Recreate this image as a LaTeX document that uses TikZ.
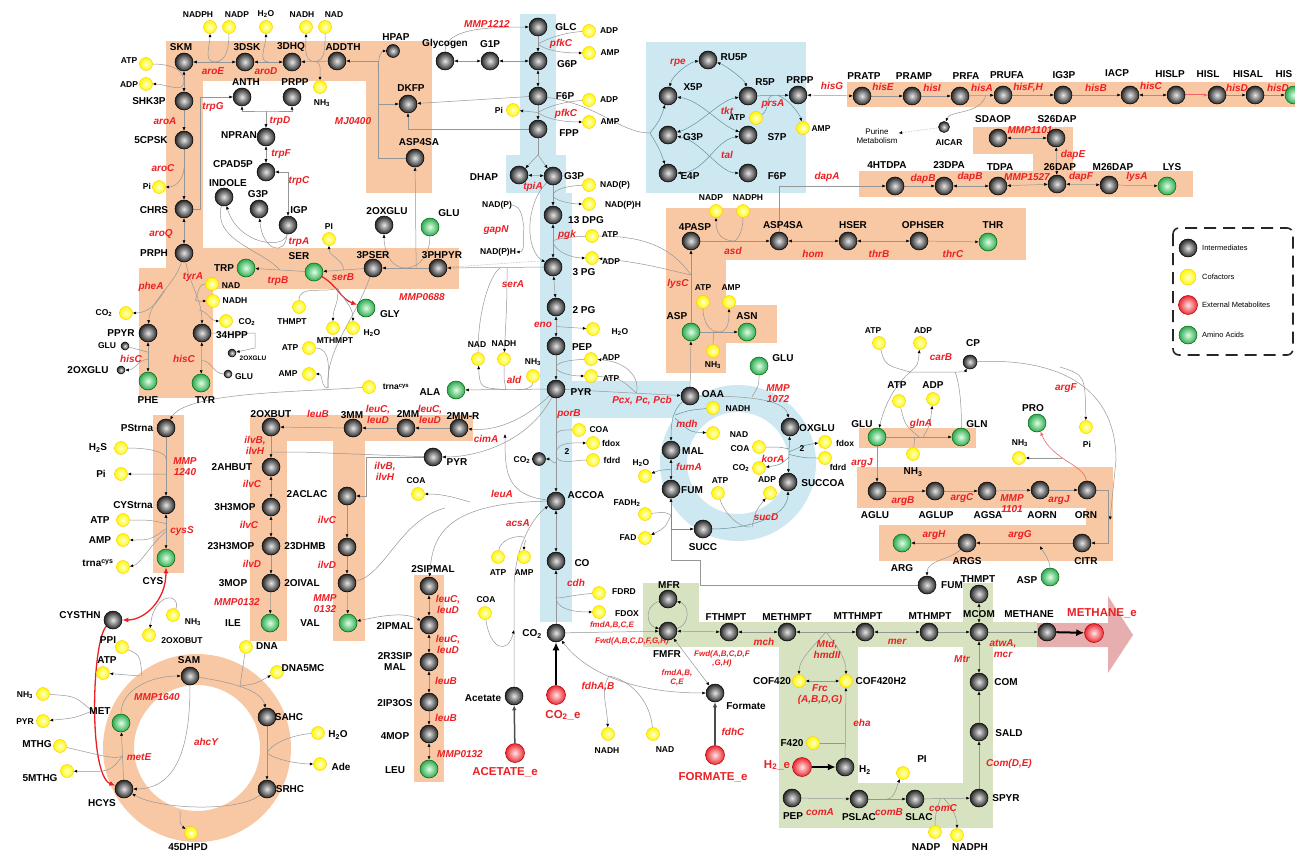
\documentclass[tikz,border=0pt]{standalone}
\usepackage{fontspec}
\setmainfont{Liberation Sans}
\usetikzlibrary{arrows.meta,calc}
\definecolor{orgbg}{RGB}{248,199,163}
\definecolor{bluebg}{RGB}{205,232,241}
\definecolor{grnbg}{RGB}{215,227,192}
\definecolor{enzred}{RGB}{236,32,36}
\definecolor{lgray}{RGB}{150,150,150}
\definecolor{tealc}{RGB}{100,145,155}
\definecolor{arrowbg}{RGB}{226,160,160}
\definecolor{aagreen}{RGB}{45,170,85}
\definecolor{exred}{RGB}{235,40,50}
\pgfdeclarelayer{bg}\pgfdeclarelayer{edges}
\pgfsetlayers{bg,edges,main}
\newcounter{tcnt}
\newcommand\mynode[4]{\node[#1] (#2) at (#3,-#4) {};}
\newcommand\mytext[4]{\stepcounter{tcnt}\node[#1] (t\arabic{tcnt}) at (#2,-#3) {#4};}
\tikzset{
 im/.style={circle,draw=black,line width=0.5pt,inner sep=0pt,minimum size=18pt,shading=radial,inner color=gray!20,outer color=black!85},
 ims/.style={im,minimum size=#1},
 cf/.style={circle,draw=yellow!60!orange,line width=0.4pt,inner sep=0pt,minimum size=13pt,shading=radial,inner color=yellow!15,outer color=yellow!95!orange},
 aa/.style={circle,draw=green!40!black,line width=0.5pt,inner sep=0pt,minimum size=18pt,shading=radial,inner color=green!12,outer color=aagreen},
 xm/.style={circle,draw=red!70!black,line width=0.5pt,inner sep=0pt,minimum size=19pt,shading=radial,inner color=red!10,outer color=exred},
 ml/.style={font=\bfseries\fontsize{10}{11}\selectfont,inner sep=0pt,align=center},
 cl/.style={font=\bfseries\fontsize{8.5}{9.5}\selectfont,inner sep=0pt,align=center},
 cls/.style={font=\bfseries\fontsize{6.5}{7}\selectfont,inner sep=0pt},
 en/.style={font=\bfseries\itshape\fontsize{10}{11}\selectfont,text=enzred,inner sep=0pt,align=center},
 ens/.style={font=\bfseries\itshape\fontsize{8}{9}\selectfont,text=enzred,inner sep=0pt,align=center},
 xl/.style={font=\bfseries\fontsize{11.5}{12}\selectfont,text=enzred,inner sep=0pt},
 lgt/.style={font=\fontsize{7.5}{9}\selectfont,anchor=west,inner sep=0pt},
 pur/.style={font=\fontsize{8}{9.5}\selectfont,inner sep=1pt,align=center},
 ar/.style={draw=lgray,line width=0.5pt,-{Latex[length=3.5pt,width=3pt,color=black]}},
 ar2/.style={draw=lgray,line width=0.5pt,{Latex[length=3.5pt,width=3pt,color=black]}-{Latex[length=3.5pt,width=3pt,color=black]}},
 ln/.style={draw=lgray,line width=0.5pt},
 ra/.style={draw=enzred,line width=1.3pt,-{Latex[length=6pt,width=5pt]}},
 ra2/.style={draw=enzred,line width=1.3pt,{Latex[length=6pt,width=5pt]}-{Latex[length=6pt,width=5pt]}},
 rt/.style={draw=enzred!70,line width=0.6pt,-{Latex[length=4pt,width=3.5pt]}},
 ba/.style={draw=black,line width=2pt,-{Latex[length=8pt,width=7pt]}},
 da/.style={draw=black!70,line width=1.5pt,-{Latex[length=5pt,width=4.5pt]}},
}
\begin{document}
\begin{tikzpicture}[x=1pt,y=1pt]
\useasboundingbox (0,0) rectangle (1295,-853);
\begin{pgfonlayer}{bg}
\fill[white] (0,0) rectangle (1295,-853);
\fill[orgbg] (166,-41) rectangle (432,-81);
\fill[orgbg] (166,-81) rectangle (203,-289);
\fill[orgbg] (366,-81) rectangle (432,-193);
\fill[orgbg] (203,-248) rectangle (459,-289);
\fill[orgbg] (139,-268) rectangle (213,-398);
\fill[orgbg] (847,-82) rectangle (1295,-107);
\fill[orgbg] (859,-171) rectangle (1193,-197);
\fill[orgbg] (973,-127) rectangle (1073,-154);
\fill[orgbg] (1033,-154) rectangle (1073,-171);
\fill[orgbg] (666,-208) rectangle (1026,-260);
\fill[orgbg] (666,-260) rectangle (726,-373);
\fill[orgbg] (666,-305) rectangle (777,-343);
\fill[orgbg] (859,-428) rectangle (976,-448);
\fill[orgbg] (857,-467) rectangle (1113,-508);
\fill[orgbg] (1086,-508) rectangle (1113,-525);
\fill[orgbg] (879,-525) rectangle (1113,-561);
\fill[orgbg] (153,-415) rectangle (184,-573);
\fill[orgbg] (250,-415) rectangle (287,-641);
\fill[orgbg] (250,-415) rectangle (473,-441);
\fill[orgbg] (333,-441) rectangle (365,-641);
\fill[orgbg] (414,-575) rectangle (444,-782);
\fill[orgbg,even odd rule] (197,-748) circle[radius=94] (197,-748) circle[radius=63];
\fill[bluebg] (520,-14) rectangle (556,-155);
\fill[bluebg] (506,-155) rectangle (566,-193);
\fill[bluebg] (540,-193) rectangle (572,-622);
\fill[bluebg] (646,-42) rectangle (806,-193);
\fill[bluebg] (572,-381) rectangle (690,-418);
\fill[bluebg,even odd rule] (738,-463) circle[radius=78] (738,-463) circle[radius=51];
\fill[grnbg] (643,-583) rectangle (699,-647);
\fill[grnbg] (643,-622) rectangle (1037,-647);
\fill[grnbg] (779,-647) rectangle (858,-828);
\fill[grnbg] (779,-783) rectangle (993,-828);
\fill[grnbg] (963,-583) rectangle (993,-828);
\fill[arrowbg,opacity=0.85] (1037,-623) -- (1108,-623) -- (1108,-596) -- (1133,-635) -- (1108,-673) -- (1108,-647) -- (1037,-647) -- cycle;
\end{pgfonlayer}
% ===== shikimate =====
\mynode{cf}{nadph1}{210}{27}\mytext{cl}{198}{15}{NADPH}
\mynode{cf}{nadp1}{229}{27}\mytext{cl}{237}{15}{NADP}
\mynode{cf}{h2o1}{266}{27}\mytext{cl}{266}{14}{H\textsubscript{2}O}
\mynode{cf}{nadh1}{306}{27}\mytext{cl}{302}{15}{NADH}
\mynode{cf}{nad1}{325}{27}\mytext{cl}{334}{15}{NAD}
\mynode{im}{skm}{184}{62}\mytext{ml}{181}{47}{SKM}
\mynode{im}{dsk}{245}{62}\mytext{ml}{247}{47}{3DSK}
\mynode{im}{dhq}{292}{62}\mytext{ml}{291}{47}{3DHQ}
\mynode{im}{addth}{337}{61}\mytext{ml}{343}{47}{ADDTH}
\mytext{en}{213}{71}{aroE}\mytext{en}{266}{71}{aroD}
\mynode{cf}{atp1}{146}{64}\mytext{cl}{129}{61}{ATP}
\mynode{cf}{adp1}{146}{84}\mytext{cl}{129}{85}{ADP}
\mynode{im}{shk3p}{184}{101}\mytext{ml}{149}{101}{SHK3P}
\mytext{en}{165}{121}{aroA}
\mynode{im}{cpsk}{184}{140}\mytext{ml}{151}{140}{5CPSK}
\mytext{en}{163}{168}{aroC}
\mynode{cf}{pi1}{159}{187}\mytext{cl}{147}{186}{Pi}
\mynode{im}{chrs}{184}{209}\mytext{ml}{154}{210}{CHRS}
\mytext{en}{161}{234}{aroQ}
\mynode{im}{prph}{184}{253}\mytext{ml}{154}{253}{PRPH}
\mytext{en}{193}{277}{tyrA}
\mynode{im}{anth}{242}{97}\mytext{ml}{246}{82}{ANTH}
\mynode{im}{prpp1}{292}{97}\mytext{ml}{295}{82}{PRPP}
\mynode{cf}{nh31}{320}{87}\mytext{cl}{322}{103}{NH\textsubscript{3}}
\mytext{en}{213}{107}{trpG}\mytext{en}{280}{121}{trpD}
\mynode{im}{npran}{266}{137}\mytext{ml}{239}{135}{NPRAN}
\mytext{en}{281}{154}{trpF}
\mynode{im}{cpad}{266}{172}\mytext{ml}{233}{164}{CPAD5P}
\mytext{en}{299}{181}{trpC}
\mynode{im}{indole}{224}{197}\mytext{ml}{228}{183}{INDOLE}
\mynode{im}{g3pa}{259}{209}\mytext{ml}{258}{194}{G3P}
\mynode{im}{igp}{288}{225}\mytext{ml}{299}{210}{IGP}
\mytext{en}{299}{242}{trpA}
\mynode{aa}{trp}{246}{268}\mytext{ml}{224}{268}{TRP}
\mytext{en}{278}{281}{trpB}
\mynode{aa}{ser}{314}{272}\mytext{ml}{299}{256}{SER}
\mynode{cf}{nad2}{212}{284}\mytext{cl}{231}{286}{NAD}
\mynode{cf}{nadh2}{213}{301}\mytext{cl}{235}{301}{NADH}
\mynode{cf}{pi2}{329}{239}\mytext{cl}{329}{227}{PI}
\mytext{en}{151}{287}{pheA}
\mynode{cf}{co2a}{126}{313}\mytext{cl}{104}{313}{CO\textsubscript{2}}
\mynode{cf}{co2b}{226}{321}\mytext{cl}{247}{322}{CO\textsubscript{2}}
\mynode{im}{ppyr}{148}{333}\mytext{ml}{121}{333}{PPYR}
\mynode{im}{hpp}{202}{333}\mytext{ml}{232}{335}{34HPP}
\mynode{ims=8pt}{glu1}{125}{346}\mytext{cl}{107}{346}{GLU}
\mytext{en}{131}{359}{hisC}\mytext{en}{184}{359}{hisC}
\mynode{ims=8pt}{oxglu1}{121}{370}\mytext{ml}{88}{370}{2OXGLU}
\mynode{ims=8pt}{oxglu2}{232}{353}\mytext{cls}{253}{358}{2OXGLU}
\mynode{ims=8pt}{glu2}{228}{374}\mytext{cl}{244}{377}{GLU}
\mynode{aa}{phe}{148}{381}\mytext{ml}{148}{400}{PHE}
\mynode{aa}{tyr}{201}{383}\mytext{ml}{205}{400}{TYR}
% ===== DKFP / glycolysis =====
\mynode{ims=13pt}{hpap}{393}{51}\mytext{ml}{396}{37}{HPAP}
\mynode{im}{glycogen}{445}{61}\mytext{ml}{445}{44}{Glycogen}
\mynode{im}{g1p}{490}{61}\mytext{ml}{490}{44}{G1P}
\mynode{im}{glc}{538}{27}\mytext{ml}{566}{27}{GLC}
\mytext{en}{487}{24}{MMP1212}
\mynode{cf}{adp2}{589}{31}\mytext{cl}{609}{31}{ADP}
\mytext{en}{561}{44}{pfkC}
\mynode{cf}{amp2}{589}{53}\mytext{cl}{610}{53}{AMP}
\mynode{im}{g6p}{538}{61}\mytext{ml}{567}{64}{G6P}
\mynode{im}{dkfp}{408}{104}\mytext{ml}{411}{88}{DKFP}
\mytext{en}{353}{121}{MJ0400}
\mynode{im}{asp4sa1}{415}{158}\mytext{ml}{419}{142}{ASP4SA}
\mynode{im}{f6p}{538}{96}\mytext{ml}{565}{96}{F6P}
\mynode{cf}{adp3}{589}{100}\mytext{cl}{609}{100}{ADP}
\mynode{cf}{pi3}{513}{110}\mytext{cl}{499}{110}{Pi}
\mytext{en}{566}{114}{pfkC}
\mynode{cf}{amp3}{589}{122}\mytext{cl}{610}{122}{AMP}
\mynode{im}{fpp}{538}{129}\mytext{ml}{569}{133}{FPP}
\mynode{im}{dhap}{519}{175}\mytext{ml}{484}{177}{DHAP}
\mynode{im}{g3p}{553}{176}\mytext{ml}{574}{176}{G3P}
\mytext{en}{533}{187}{tpiA}
\mynode{cf}{nadp2}{589}{185}\mytext{cl}{615}{185}{NAD(P)}
\mynode{cf}{nadph2}{589}{204}\mytext{cl}{623}{205}{NAD(P)H}
\mynode{im}{dpg}{553}{215}\mytext{ml}{586}{220}{13 DPG}
\mytext{en}{567}{235}{pgk}
\mynode{cf}{atp2}{592}{236}\mytext{cl}{610}{235}{ATP}
\mynode{cf}{adp4}{592}{258}\mytext{cl}{611}{262}{ADP}
\mynode{im}{pg3}{553}{267}\mytext{ml}{584}{272}{3 PG}
\node[cl] (tnadpa) at (497,-205) {NAD(P)};
\mytext{en}{496}{230}{gapN}
\node[cl] (tnadph) at (498,-252) {NAD(P)H};
\mynode{im}{oxglu3}{384}{225}\mytext{ml}{387}{211}{2OXGLU}
\mynode{aa}{glu3}{430}{227}\mytext{ml}{449}{213}{GLU}
\mynode{im}{pser}{373}{268}\mytext{ml}{373}{255}{3PSER}
\mynode{im}{phpyr}{438}{268}\mytext{ml}{442}{255}{3PHPYR}
\mytext{en}{343}{277}{serB}\mytext{en}{513}{284}{serA}
\mynode{cf}{thmpt1}{299}{307}\mytext{cl}{292}{322}{THMPT}
\mynode{cf}{mthmpt1}{333}{328}\mytext{cl}{335}{341}{MTHMPT}
\mynode{cf}{h2o2}{353}{328}\mytext{cl}{372}{333}{H\textsubscript{2}O}
\mynode{aa}{gly}{366}{308}\mytext{ml}{390}{314}{GLY}
\mytext{en}{422}{297}{MMP0688}
\mynode{cf}{atp3}{309}{348}\mytext{cl}{290}{348}{ATP}
\mynode{cf}{amp4}{309}{374}\mytext{cl}{288}{374}{AMP}
\mynode{cf}{trna1}{369}{387}\mytext{cl}{396}{387}{trna\textsuperscript{cys}}
\mynode{im}{pg2}{556}{307}\mytext{ml}{584}{310}{2 PG}
\mytext{en}{543}{325}{eno}
\mynode{cf}{h2o3}{593}{329}\mytext{cl}{620}{332}{H\textsubscript{2}O}
\mynode{im}{pep}{556}{346}\mytext{ml}{582}{347}{PEP}
\mynode{cf}{adp5}{591}{359}\mytext{cl}{611}{358}{ADP}
\mynode{cf}{atp4}{591}{376}\mytext{cl}{611}{379}{ATP}
\mynode{im}{pyr}{556}{389}\mytext{ml}{581}{392}{PYR}
\mytext{en}{642}{401}{Pcx, Pc, Pcb}
\mytext{en}{569}{414}{porB}
\mynode{cf}{coa1}{579}{430}\mytext{cl}{599}{430}{COA}
\mynode{cf}{fdox1}{593}{443}\mytext{cl}{611}{443}{fdox}
\mytext{cl}{567}{452}{2}
\mynode{cf}{fdrd1}{593}{460}\mytext{cl}{612}{460}{fdrd}
\mynode{ims=13pt}{co2s}{539}{459}\mytext{cl}{522}{460}{CO\textsubscript{2}}
\mynode{im}{accoa}{556}{501}\mytext{ml}{586}{495}{ACCOA}
\mynode{im}{co}{556}{561}\mytext{ml}{582}{563}{CO}
\mynode{cf}{nad3}{478}{359}\mytext{cl}{477}{345}{NAD}
\mynode{cf}{nadh3}{504}{359}\mytext{cl}{504}{344}{NADH}
\mynode{cf}{nh32}{533}{376}\mytext{cl}{533}{362}{NH\textsubscript{3}}
\mytext{en}{514}{380}{ald}
\mynode{aa}{ala}{456}{390}\mytext{ml}{430}{392}{ALA}
% ===== branched chain =====
\mynode{im}{oxbut}{271}{427}\mytext{ml}{271}{414}{2OXBUT}
\mytext{en}{318}{414}{leuB}
\mytext{en}{255}{445}{ilvB,\\ilvH}
\mynode{im}{ahbut}{271}{467}\mytext{ml}{232}{467}{2AHBUT}
\mytext{en}{252}{484}{ilvC}
\mynode{im}{h3mop}{271}{507}\mytext{ml}{235}{507}{3H3MOP}
\mytext{en}{249}{525}{ilvC}
\mynode{im}{h23mop}{271}{546}\mytext{ml}{231}{546}{23H3MOP}
\mytext{en}{252}{564}{ilvD}
\mynode{im}{mop3}{271}{583}\mytext{ml}{233}{583}{3MOP}
\mytext{en}{237}{602}{MMP0132}
\mynode{aa}{ile}{270}{623}\mytext{ml}{233}{623}{ILE}
\mynode{im}{mm3}{353}{428}\mytext{ml}{352}{415}{3MM}
\mytext{en}{378}{414}{leuC,\\leuD}
\mynode{im}{mm2}{406}{428}\mytext{ml}{408}{414}{2MM}
\mytext{en}{430}{414}{leuC,\\leuD}
\mynode{im}{mmr}{459}{428}\mytext{ml}{463}{416}{2MM-R}
\mytext{en}{486}{439}{cimA}
\mynode{im}{pyr2}{433}{457}\mytext{ml}{457}{462}{PYR}
\mytext{en}{385}{471}{ilvB,\\ilvH}
\mynode{im}{aclac}{347}{496}\mytext{ml}{307}{494}{2ACLAC}
\mytext{en}{327}{520}{ilvC}
\mynode{im}{dhmb}{347}{547}\mytext{ml}{305}{546}{23DHMB}
\mytext{en}{327}{565}{ilvD}
\mynode{im}{oival}{347}{583}\mytext{ml}{302}{583}{2OIVAL}
\mytext{en}{325}{604}{MMP\\0132}
\mynode{aa}{val}{348}{623}\mytext{ml}{310}{623}{VAL}
\mynode{cf}{coa2}{418}{494}\mytext{cl}{416}{481}{COA}
\mytext{en}{502}{494}{leuA}\mytext{en}{518}{523}{acsA}
\mynode{cf}{atp5}{498}{557}\mytext{cl}{498}{573}{ATP}
\mynode{cf}{amp5}{524}{557}\mytext{cl}{524}{573}{AMP}
\mytext{ml}{433}{569}{2SIPMAL}
\mynode{im}{sipmal}{429}{586}
\mytext{en}{448}{604}{leuC,\\leuD}
\mynode{im}{ipmal}{429}{625}\mytext{ml}{395}{626}{2IPMAL}
\mytext{en}{448}{644}{leuC,\\leuD}
\mynode{im}{r3sip}{429}{662}\mytext{ml}{395}{662}{2R3SIP\\MAL}
\mytext{en}{446}{681}{leuB}
\mynode{im}{ip3os}{429}{702}\mytext{ml}{395}{703}{2IP3OS}
\mytext{en}{446}{718}{leuB}
\mynode{im}{mop4}{429}{734}\mytext{ml}{395}{736}{4MOP}
\mytext{en}{460}{754}{MMP0132}
\mynode{aa}{leu}{429}{769}\mytext{ml}{395}{770}{LEU}
% ===== acetate / CO2 =====
\mynode{cf}{coa3}{485}{613}\mytext{cl}{486}{600}{COA}
\mynode{im}{acetate}{514}{696}\mytext{ml}{483}{698}{Acetate}
\mynode{xm}{acetatee}{515}{753}\mytext{xl}{505}{772}{ACETATE\_e}
\mynode{im}{co2}{556}{633}\mytext{ml}{532}{634}{CO\textsubscript{2}}
\mynode{xm}{co2e}{556}{695}\mytext{xl}{563}{715}{CO\textsubscript{2}\_e}
\mytext{en}{576}{583}{cdh}
\mynode{cf}{fdrd2}{599}{593}\mytext{cl}{624}{592}{FDRD}
\mynode{cf}{fdox2}{599}{612}\mytext{cl}{627}{614}{FDOX}
\mytext{ens}{612}{625}{fmdA,B,C,E}
\mytext{ens}{632}{641}{Fwd(A,B,C,D,F,G,H)}
\mytext{en}{598}{687}{fdhA,B}
\mynode{cf}{nadh4}{608}{734}\mytext{cl}{607}{751}{NADH}
\mynode{cf}{nad4}{653}{734}\mytext{cl}{665}{750}{NAD}
% ===== aspartate =====
\mynode{im}{pasp}{691}{241}\mytext{ml}{695}{227}{4PASP}
\mynode{cf}{nadp3}{716}{211}\mytext{cl}{711}{198}{NADP}
\mynode{cf}{nadph3}{743}{211}\mytext{cl}{748}{198}{NADPH}
\mytext{en}{733}{251}{asd}
\mynode{im}{asp4sa2}{779}{241}\mytext{ml}{783}{225}{ASP4SA}
\mytext{en}{813}{254}{hom}
\mynode{im}{hser}{848}{241}\mytext{ml}{853}{225}{HSER}
\mytext{en}{879}{254}{thrB}
\mynode{im}{ophser}{919}{241}\mytext{ml}{923}{225}{OPHSER}
\mytext{en}{953}{254}{thrC}
\mynode{aa}{thr}{988}{242}\mytext{ml}{993}{225}{THR}
\mytext{en}{678}{284}{lysC}
\mynode{aa}{asp1}{691}{332}\mytext{ml}{677}{316}{ASP}
\mynode{cf}{atp6}{703}{302}\mytext{cl}{703}{288}{ATP}
\mynode{cf}{amp6}{729}{302}\mytext{cl}{731}{288}{AMP}
\mynode{aa}{asn}{747}{332}\mytext{ml}{747}{316}{ASN}
\mynode{cf}{nh33}{713}{351}\mytext{cl}{713}{365}{NH\textsubscript{3}}
\mynode{aa}{glu4}{759}{366}\mytext{ml}{783}{358}{GLU}
\mytext{en}{778}{394}{MMP\\1072}
% ===== lysine =====
\mytext{en}{827}{177}{dapA}
\mynode{im}{htdpa}{895}{186}\mytext{ml}{887}{165}{4HTDPA}
\mytext{en}{923}{179}{dapB}
\mynode{im}{dpa23}{944}{186}\mytext{ml}{949}{165}{23DPA}
\mytext{en}{970}{177}{dapB}
\mynode{im}{tdpa}{998}{186}\mytext{ml}{1000}{167}{TDPA}
\mytext{en}{1027}{177}{MMP1527}
\mynode{im}{dap26}{1057}{184}\mytext{ml}{1060}{167}{26DAP}
\mytext{en}{1081}{177}{dapF}
\mynode{im}{m26dap}{1109}{185}\mytext{ml}{1113}{167}{M26DAP}
\mytext{en}{1137}{177}{lysA}
\mynode{aa}{lys}{1167}{186}\mytext{ml}{1172}{167}{LYS}
\mynode{im}{sdaop}{998}{138}\mytext{ml}{993}{119}{SDAOP}
\mytext{en}{1030}{130}{MMP1101}
\mynode{im}{s26dap}{1056}{138}\mytext{ml}{1057}{119}{S26DAP}
\mytext{en}{1073}{155}{dapE}
% ===== PPP =====
\mynode{im}{ru5p}{708}{60}\mytext{ml}{734}{57}{RU5P}
\mytext{en}{678}{63}{rpe}
\mynode{im}{x5p}{668}{96}\mytext{ml}{693}{87}{X5P}
\mynode{im}{r5p}{748}{96}\mytext{ml}{765}{82}{R5P}
\mynode{im}{prpp2}{798}{95}\mytext{ml}{800}{80}{PRPP}
\mytext{en}{832}{86}{hisG}
\mytext{en}{727}{111}{tkt}\mytext{en}{773}{104}{prsA}
\mynode{cf}{atp7}{756}{118}\mytext{cl}{737}{118}{ATP}
\mynode{cf}{amp7}{803}{128}\mytext{cl}{821}{129}{AMP}
\mynode{im}{g3p2}{668}{135}\mytext{ml}{693}{137}{G3P}
\mynode{im}{s7p}{748}{135}\mytext{ml}{777}{137}{S7P}
\mytext{en}{727}{155}{tal}
\mynode{im}{e4p}{668}{173}\mytext{ml}{690}{176}{E4P}
\mynode{im}{f6p2}{748}{173}\mytext{ml}{777}{176}{F6P}
% ===== histidine =====
\mynode{im}{pratp}{862}{96}\mytext{ml}{864}{76}{PRATP}
\mytext{en}{883}{87}{hisE}
\mynode{im}{pramp}{912}{96}\mytext{ml}{914}{76}{PRAMP}
\mytext{en}{932}{88}{hisI}
\mynode{im}{prfa}{960}{96}\mytext{ml}{966}{76}{PRFA}
\mytext{en}{982}{88}{hisA}
\mynode{im}{prufa}{1003}{95}\mytext{ml}{1007}{75}{PRUFA}
\mytext{en}{1028}{88}{hisF,H}
\mynode{im}{ig3p}{1063}{95}\mytext{ml}{1064}{75}{IG3P}
\mytext{en}{1096}{88}{hisB}
\mynode{im}{iacp}{1130}{95}\mytext{ml}{1117}{73}{IACP}
\mytext{en}{1151}{86}{hisC}
\mynode{im}{hislp}{1176}{95}\mytext{ml}{1170}{74}{HISLP}
\mynode{im}{hisl}{1217}{95}\mytext{ml}{1208}{74}{HISL}
\mytext{en}{1237}{88}{hisD}
\mynode{im}{hisal}{1255}{95}\mytext{ml}{1248}{74}{HISAL}
\mytext{en}{1278}{88}{hisD}
\mynode{aa}{his}{1294}{95}\mytext{ml}{1284}{74}{HIS}
\node[pur] (purine) at (877,-136) {Purine\\Metabolism};
\mynode{ims=11pt}{aicar}{944}{127}\mytext{cl}{949}{143}{AICAR}
% ===== TCA =====
\mynode{im}{oaa}{690}{396}\mytext{ml}{713}{394}{OAA}
\mynode{cf}{nadh5}{713}{408}\mytext{cl}{738}{409}{NADH}
\mytext{en}{687}{424}{mdh}
\mynode{cf}{nad5}{713}{433}\mytext{cl}{739}{435}{NAD}
\mynode{im}{mal}{671}{450}\mytext{ml}{693}{451}{MAL}
\mytext{en}{689}{467}{fumA}
\mynode{cf}{h2o4}{645}{476}\mytext{cl}{641}{463}{H\textsubscript{2}O}
\mynode{im}{fum}{671}{489}\mytext{ml}{692}{490}{FUM}
\mynode{cf}{fadh2}{645}{514}\mytext{cl}{627}{503}{FADH\textsubscript{2}}
\mynode{cf}{fad}{645}{538}\mytext{cl}{628}{538}{FAD}
\mynode{im}{succ}{703}{529}\mytext{ml}{703}{547}{SUCC}
\mynode{cf}{atp8}{718}{493}\mytext{cl}{720}{481}{ATP}
\mynode{cf}{adp6}{770}{493}\mytext{cl}{767}{480}{ADP}
\mytext{en}{766}{517}{sucD}
\mynode{cf}{coa4}{759}{447}\mytext{cl}{740}{449}{COA}
\mytext{en}{773}{459}{korA}
\mynode{cf}{co2c}{759}{468}\mytext{cl}{741}{468}{CO\textsubscript{2}}
\mynode{im}{oxglu4}{790}{427}\mytext{ml}{817}{428}{OXGLU}
\mynode{im}{succoa}{788}{482}\mytext{ml}{823}{483}{SUCCOA}
\mynode{cf}{fdox3}{825}{442}\mytext{cl}{845}{443}{fdox}
\mytext{cl}{802}{449}{2}
\mynode{cf}{fdrd3}{825}{458}\mytext{cl}{838}{467}{fdrd}
\mytext{en}{862}{463}{argJ}
% ===== glutamate / arginine =====
\mynode{aa}{glu5}{877}{437}\mytext{ml}{862}{424}{GLU}
\mytext{en}{921}{424}{glnA}
\mynode{aa}{gln}{961}{437}\mytext{ml}{977}{424}{GLN}
\mynode{cf}{atp9}{899}{401}\mytext{ml}{897}{385}{ATP}
\mynode{cf}{adp7}{933}{399}\mytext{ml}{933}{385}{ADP}
\mynode{cf}{nh34}{913}{454}\mytext{ml}{913}{472}{NH\textsubscript{3}}
\mynode{cf}{atp10}{879}{343}\mytext{cl}{873}{331}{ATP}
\mynode{cf}{adp8}{920}{343}\mytext{cl}{923}{331}{ADP}
\mytext{en}{941}{357}{carB}
\mynode{ims=14pt}{cp}{970}{362}\mytext{ml}{973}{343}{CP}
\mytext{en}{1066}{388}{argF}
\mynode{aa}{pro}{1037}{423}\mytext{ml}{1033}{408}{PRO}
\mynode{cf}{pi4}{1086}{427}\mytext{cl}{1087}{444}{Pi}
\mynode{cf}{nh35}{1019}{458}\mytext{cl}{1020}{443}{NH\textsubscript{3}}
\mynode{im}{aglu}{877}{491}\mytext{ml}{875}{515}{AGLU}
\mytext{en}{903}{501}{argB}
\mynode{im}{aglup}{935}{491}\mytext{ml}{936}{515}{AGLUP}
\mytext{en}{962}{498}{argC}
\mynode{im}{agsa}{987}{491}\mytext{ml}{988}{515}{AGSA}
\mytext{en}{1012}{504}{MMP\\1101}
\mynode{im}{aorn}{1040}{490}\mytext{ml}{1042}{515}{AORN}
\mytext{en}{1059}{500}{argJ}
\mynode{im}{orn}{1087}{490}\mytext{ml}{1086}{515}{ORN}
\mynode{im}{citr}{1082}{543}\mytext{ml}{1086}{561}{CITR}
\mytext{en}{1020}{535}{argG}
\mynode{im}{args}{967}{543}\mytext{ml}{967}{561}{ARGS}
\mytext{en}{934}{535}{argH}
\mynode{aa}{arg}{902}{543}\mytext{ml}{902}{568}{ARG}
\mynode{aa}{asp2}{1050}{577}\mytext{ml}{1027}{580}{ASP}
\mynode{im}{fum2}{927}{585}\mytext{ml}{952}{585}{FUM}
% ===== legend =====
\draw[black!85,line width=1.6pt,dash pattern=on 12pt off 7pt,rounded corners=6pt] (1173,-228) rectangle (1293,-355);
\mynode{im}{lg1}{1188}{248}\mytext{lgt}{1202}{248}{Intermediates}
\mynode{cf,minimum size=16pt}{lg2}{1188}{277}\mytext{lgt}{1202}{277}{Cofactors}
\mynode{xm}{lg3}{1188}{305}\mytext{lgt}{1202}{305}{External Metabolites}
\mynode{aa}{lg4}{1188}{335}\mytext{lgt}{1202}{335}{Amino Acids}
% ===== methanogenesis =====
\mynode{im}{mfr}{668}{599}\mytext{ml}{669}{585}{MFR}
\mynode{im}{fmfr}{668}{631}\mytext{ml}{667}{654}{FMFR}
\mytext{ens}{677}{678}{fmdA,B,\\C,E}
\mynode{im}{fthmpt}{729}{632}\mytext{ml}{726}{617}{FTHMPT}
\mytext{ens}{722}{659}{Fwd(A,B,C,D,F\\,G,H)}
\mytext{en}{764}{642}{mch}
\mynode{im}{methmpt}{787}{632}\mytext{ml}{787}{617}{METHMPT}
\mytext{en}{827}{649}{Mtd,\\hmdII}
\mynode{im}{mtthmpt}{865}{632}\mytext{ml}{858}{616}{MTTHMPT}
\mytext{en}{897}{642}{mer}
\mynode{im}{mthmpt}{929}{632}\mytext{ml}{930}{616}{MTHMPT}
\mynode{im}{formate}{715}{693}\mytext{ml}{746}{706}{Formate}
\mytext{en}{733}{732}{fdhC}
\mynode{xm}{formatee}{715}{755}\mytext{xl}{713}{777}{FORMATE\_e}
\mynode{cf}{cof420}{799}{681}\mytext{ml}{772}{681}{COF420}
\mynode{cf}{cof420h2}{846}{681}\mytext{ml}{881}{681}{COF420H2}
\mytext{en}{820}{695}{Frc\\(A,B,D,G)}
\mytext{en}{862}{723}{eha}
\mynode{cf}{f420}{813}{743}\mytext{ml}{792}{743}{F420}
\mynode{xm}{h2e}{802}{767}\mytext{xl}{777}{765}{H\textsubscript{2}\_e}
\mynode{im}{h2}{845}{767}\mytext{ml}{865}{770}{H\textsubscript{2}}
\mynode{cf}{pi5}{903}{773}\mytext{ml}{922}{759}{PI}
\mynode{im}{pep2}{792}{798}\mytext{ml}{793}{816}{PEP}
\mytext{en}{820}{812}{comA}
\mynode{im}{pslac}{859}{799}\mytext{ml}{859}{817}{PSLAC}
\mytext{en}{889}{812}{comB}
\mynode{im}{slac}{915}{799}\mytext{ml}{919}{817}{SLAC}
\mytext{en}{943}{808}{comC}
\mynode{cf}{nadp4}{935}{832}\mytext{ml}{926}{847}{NADP}
\mynode{cf}{nadph4}{957}{835}\mytext{ml}{970}{847}{NADPH}
\mynode{im}{thmpt2}{979}{594}\mytext{ml}{978}{579}{THMPT}
\mynode{im}{mcom}{979}{632}\mytext{ml}{979}{614}{MCOM}
\mynode{im}{methane}{1047}{632}\mytext{ml}{1029}{614}{METHANE}
\mynode{xm}{methanee}{1094}{633}\mytext{xl}{1102}{613}{METHANE\_e}
\mytext{en}{1003}{649}{atwA,\\mcr}
\mytext{en}{962}{659}{Mtr}
\mynode{im}{com}{979}{682}\mytext{ml}{1006}{682}{COM}
\mynode{im}{sald}{979}{732}\mytext{ml}{1009}{733}{SALD}
\mytext{en}{1009}{764}{Com(D,E)}
\mynode{im}{spyr}{979}{798}\mytext{ml}{1006}{798}{SPYR}
% ===== cysteine =====
\mynode{im}{pstrna}{166}{428}\mytext{ml}{137}{428}{PStrna}
\mynode{cf}{h2s}{121}{448}\mytext{ml}{98}{448}{H\textsubscript{2}S}
\mytext{en}{185}{467}{MMP\\1240}
\mynode{cf}{pi6}{121}{474}\mytext{ml}{101}{474}{Pi}
\mynode{im}{cystrna}{166}{505}\mytext{ml}{133}{505}{CYStrna}
\mynode{cf}{atp11}{123}{520}\mytext{ml}{100}{520}{ATP}
\mytext{en}{182}{531}{cysS}
\mynode{cf}{amp8}{123}{540}\mytext{ml}{100}{540}{AMP}
\mynode{cf}{trna2}{123}{567}\mytext{ml}{98}{563}{trna\textsuperscript{cys}}
\mynode{aa}{cys}{166}{558}\mytext{ml}{153}{581}{CYS}
% ===== methionine =====
\mynode{im}{cysthn}{113}{620}\mytext{ml}{80}{615}{CYSTHN}
\mynode{cf}{nh36}{173}{615}\mytext{cl}{193}{622}{NH\textsubscript{3}}
\mynode{cf}{oxobut}{149}{635}\mytext{cl}{182}{641}{2OXOBUT}
\mynode{cf}{ppi}{122}{647}\mytext{ml}{108}{640}{PPI}
\mynode{cf}{atp12}{103}{673}\mytext{ml}{107}{660}{ATP}
\mynode{im}{sam}{190}{676}\mytext{ml}{189}{660}{SAM}
\mynode{cf}{dna}{246}{647}\mytext{ml}{267}{646}{DNA}
\mynode{cf}{dna5mc}{277}{672}\mytext{ml}{303}{668}{DNA5MC}
\mytext{en}{157}{697}{MMP1640}
\mynode{cf}{nh37}{43}{694}\mytext{cl}{25}{695}{NH\textsubscript{3}}
\mytext{ml}{100}{711}{MET}
\mynode{aa}{met}{121}{723}
\mynode{cf}{pyr3}{43}{721}\mytext{cl}{25}{722}{PYR}
\mynode{cf}{mthg}{60}{746}\mytext{ml}{37}{744}{MTHG}
\mynode{cf}{mthg5}{67}{771}\mytext{ml}{40}{778}{5MTHG}
\mytext{en}{139}{757}{metE}
\mytext{en}{206}{742}{ahcY}
\mynode{im}{sahc}{267}{717}\mytext{ml}{289}{717}{SAHC}
\mynode{cf}{h2o5}{318}{733}\mytext{ml}{338}{735}{H\textsubscript{2}O}
\mynode{cf}{ade}{320}{764}\mytext{ml}{341}{767}{Ade}
\mynode{im}{srhc}{267}{789}\mytext{ml}{290}{789}{SRHC}
\mynode{im}{hcys}{124}{789}\mytext{ml}{102}{803}{HCYS}
\mynode{cf}{dhpd}{191}{833}\mytext{ml}{188}{847}{45DHPD}
% ================= connectors =================
\begin{pgfonlayer}{edges}
% shikimate
\draw[ar2] (dsk) -- (skm);
\draw[ar2] (dhq) -- (dsk);
\draw[ar] (addth) -- (dhq);
\draw[ln] (nadp1) to[out=-90,in=0] ($(skm)!.5!(dsk)$);
\draw[ar] ($(skm)!.5!(dsk)$) to[out=180,in=-90] (nadph1);
\draw[ar] ($(dsk)!.5!(dhq)$) to[out=180,in=-90] (h2o1);
\draw[ln] (nad1) to[out=-90,in=0] ($(dhq)!.5!(addth)$);
\draw[ar] ($(dhq)!.5!(addth)$) to[out=180,in=-90] (nadh1);
\draw[ar] ($(dhq)!.5!(addth)$) to[out=0,in=90] (nh31);
\draw[ar2] (skm) -- (shk3p);
\draw[ln] (atp1) to[out=0,in=90] ($(skm)!.5!(shk3p)$);
\draw[ar] ($(skm)!.5!(shk3p)$) to[out=-90,in=0] (adp1);
\draw[ar] (shk3p) -- (cpsk);
\draw[ar] (cpsk) -- (chrs);
\draw[ar] ($(cpsk)!.4!(chrs)$) to[out=-90,in=0] (pi1);
\draw[ar2] (chrs) -- (prph);
\draw[ar] (chrs) -- ++(16,0) |- (anth);
\draw[ar2] (anth) |- (266,-111) -| (prpp1);
\draw[ar] (266,-111) -- (npran);
\draw[ar2] (npran) -- (cpad);
\draw[ar2] (cpad) -| (igp);
\draw[ar] (igp) .. controls (285,-250) and (238,-245) .. (indole);
\draw[ar] (igp) .. controls (285,-258) and (262,-250) .. (g3pa);
\draw[ar] (ser) -- (trp);
\draw[ln] (indole) .. controls (212,-240) and (262,-250) .. ($(ser)!.5!(trp)$);
\draw[ar] (prph) .. controls (175,-285) and (150,-300) .. (ppyr);
\draw[ar] (prph) .. controls (190,-285) and (202,-300) .. (hpp);
\draw[ar] (165,-290) to[out=-120,in=0] (co2a);
\draw[ln] (nad2) to[out=180,in=60] (195,-300);
\draw[ar] (195,-300) to[out=-30,in=180] (nadh2);
\draw[ar] (199,-310) to[out=-10,in=180] (co2b);
\draw[ar2] (ppyr) -- (phe);
\draw[ln] (glu1) -- ($(ppyr)!.4!(phe)$);
\draw[ar] ($(ppyr)!.55!(phe)$) to[out=180,in=0] (oxglu1);
\draw[ar2] (hpp) -- (tyr);
\draw[ar] (hpp) -- (255,-333) -- (255,-348) -- (oxglu2);
\draw[ln] (glu2) to[out=180,in=0] ($(hpp)!.55!(tyr)$);
% serine
\draw[ar] (pg3) -- (phpyr);
\draw[ln,densely dotted] (phpyr) -- (pg3.north west);
\draw[ar] (phpyr) -- (pser);
\draw[ar] ($(pser)!.5!(phpyr)$) to[out=180,in=-90] (oxglu3);
\draw[ln] (glu3) to[out=-90,in=0] ($(pser)!.5!(phpyr)$);
\draw[ar] ($(pser)!.664!(phpyr)$) -- (asp4sa1);
\draw[ar] (pser) -- (ser);
\draw[ar] ($(ser)!.5!(pser)$) to[out=90,in=-90] (pi2);
\draw[ra] (ser) to[out=-30,in=160] (gly);
\draw[ln] (thmpt1) to[out=90,in=200] ($(ser)!.45!(gly)$);
\draw[ar] ($(ser)!.45!(gly)$) to[out=-80,in=90] (mthmpt1);
\draw[ar] ($(ser)!.45!(gly)$) to[out=-60,in=90] (h2o2);
\draw[ln] (pser) .. controls (355,-320) and (325,-350) .. (328,-388);
\draw[ln] (atp3) to[out=0,in=90] (328,-388);
\draw[ar] (328,-388) to[out=180,in=0] (amp4);
\draw[ar] (trna1) .. controls (300,-392) and (185,-392) .. (pstrna);
% dkfp
\draw[ar] (asp4sa1) -| (378,-61) -- (addth);
\draw[ar] (378,-104) -- (dkfp);
\draw[ar] (378,-70) .. controls (378,-55) and (382,-51) .. (hpap);
\draw[ar] (f6p) -- (dkfp);
\draw[ar] (fpp) -| (dkfp);
% glycolysis
\draw[ar] (glc) -- (g6p);
\draw[ar] (glycogen) .. controls (445,-30) and (480,-27) .. (glc);
\draw[ar2] (glycogen) -- (g1p);
\draw[ar2] (g1p) -- (g6p);
\draw[ln] (adp2) .. controls (560,-33) and (545,-40) .. ($(glc)!.5!(g6p)$);
\draw[ar] ($(glc)!.5!(g6p)$) .. controls (545,-50) and (560,-53) .. (amp2);
\draw[ar2] (g6p) -- (f6p);
\draw[ar] (f6p) -- (fpp);
\draw[ln] (adp3) .. controls (560,-102) and (545,-108) .. ($(f6p)!.5!(fpp)$);
\draw[ar] ($(f6p)!.5!(fpp)$) .. controls (545,-118) and (560,-122) .. (amp3);
\draw[ar] ($(f6p)!.5!(fpp)$) -- (pi3);
\draw[ln] (fpp) -- (538,-155);
\draw[ar] (538,-155) -- (dhap);
\draw[ar] (538,-155) -- (g3p);
\draw[ar2] (dhap) -- (g3p);
\draw[ar] (g3p) -- (dpg);
\draw[ln] (nadp2) .. controls (565,-186) and (553,-190) .. ($(g3p)!.5!(dpg)$);
\draw[ar] ($(g3p)!.5!(dpg)$) .. controls (553,-200) and (570,-204) .. (nadph2);
\draw[ar] (g3p) .. controls (525,-205) and (525,-250) .. (pg3);
\draw[ln] (tnadpa.east) to[out=-10,in=100] (524,-228);
\draw[ar] (524,-228) to[out=-100,in=0] (tnadph.east);
\draw[ar2] (dpg) -- (pg3);
\draw[ln] (atp2) .. controls (565,-237) and (553,-240) .. ($(dpg)!.5!(pg3)$);
\draw[ar] ($(dpg)!.5!(pg3)$) .. controls (553,-250) and (570,-258) .. (adp4);
\draw[ln] (atp2) .. controls (640,-236) and (670,-245) .. (691,-275);
\draw[ar] (691,-275) .. controls (660,-268) and (640,-262) .. (adp4);
\draw[ar2] (pg3) -- (pg2);
\draw[ar2] (pg2) -- (pep);
\draw[ar] ($(pg2)!.5!(pep)$) -- (h2o3);
\draw[ar] (pep) -- (pyr);
\draw[ln] (adp5) .. controls (570,-360) and (556,-362) .. ($(pep)!.5!(pyr)$);
\draw[ar] ($(pep)!.5!(pyr)$) .. controls (556,-372) and (570,-376) .. (atp4);
\draw[ar] (pyr) -- (accoa);
\draw[ln] (coa1) to[out=180,in=90] ($(pyr)!.42!(accoa)$);
\draw[ar] ($(pyr)!.58!(accoa)$) to[out=90,in=180] (fdox1);
\draw[ln] (fdrd1) to[out=180,in=-90] ($(pyr)!.58!(accoa)$);
\draw[ar] ($(pyr)!.65!(accoa)$) to[out=-90,in=0] (co2s);
\draw[ar2] (accoa) -- (co);
\draw[ar] (co2) -- (co);
\draw[ln] (fdrd2) .. controls (570,-595) and (556,-600) .. ($(co)!.5!(co2)$);
\draw[ar] ($(co)!.5!(co2)$) .. controls (556,-608) and (570,-612) .. (fdox2);
\draw[ba] (co2e) -- (co2);
\draw[da] (acetatee) -- (acetate);
\draw[ar] (acetate) -- (514,-590) .. controls (514,-545) and (535,-515) .. (accoa);
\draw[ln] (atp5) .. controls (500,-540) and (515,-535) .. (524,-537);
\draw[ar] (526,-540) .. controls (524,-545) .. (amp5);
\draw[ar] (coa3) .. controls (490,-650) and (508,-655) .. (514,-630);
\draw[ar] (accoa) .. controls (440,-503) and (432,-540) .. (sipmal);
\draw[ar] (470,-502) .. controls (450,-496) and (440,-494) .. (coa2);
\draw[ln] (oival) .. controls (385,-575) and (400,-520) .. (445,-508);
\draw[ar] (pyr) -- (ala);
\draw[ln] (nadh3) .. controls (504,-380) .. ($(pyr)!.5!(ala)$);
\draw[ar] ($(pyr)!.5!(ala)$) .. controls (480,-388) .. (nad3);
\draw[ln] (nh32) .. controls (533,-388) and (525,-390) .. ($(pyr)!.4!(ala)$);
\draw[ln] (nad3) .. controls (478,-310) and (490,-275) .. (500,-268);
\draw[ar] (507,-268) .. controls (507,-300) .. (nadh3);
\draw[ar] (pyr) .. controls (530,-415) and (500,-432) .. (mmr);
\draw[ar] (accoa) .. controls (505,-495) and (505,-470) .. (505,-434);
\draw[ar] (pyr) .. controls (530,-440) and (480,-457) .. (pyr2);
% branched chain
\draw[ar] (mmr) -- (mm2);
\draw[ar] (mm2) -- (mm3);
\draw[ar] (mm3) -- (oxbut);
\draw[ar] (oxbut) -- (ahbut);
\draw[ln] (pyr2) -- (300,-452) -- (271,-452);
\draw[ar2] (ahbut) -- (h3mop);
\draw[ar2] (h3mop) -- (h23mop);
\draw[ar] (h23mop) -- (mop3);
\draw[ar] (mop3) -- (ile);
\draw[ar] (pyr2) -- (366,-457) |- (aclac);
\draw[ar] (aclac) -- (dhmb);
\draw[ar] (dhmb) -- (oival);
\draw[ar] (oival) -- (val);
\draw[ar2] (sipmal) -- (ipmal);
\draw[ar2] (ipmal) -- (r3sip);
\draw[ar2] (r3sip) -- (ip3os);
\draw[ar] (ip3os) -- (mop4);
\draw[ar2] (mop4) -- (leu);
\draw[ar2] (ipmal) .. controls (405,-612) and (385,-615) .. (val);
% cysteine
\draw[ar] (pstrna) -- (cystrna);
\draw[ln] (h2s) .. controls (150,-448) and (166,-452) .. ($(pstrna)!.4!(cystrna)$);
\draw[ar] ($(pstrna)!.6!(cystrna)$) .. controls (160,-474) .. (pi6);
\draw[ar2] (cystrna) -- (cys);
\draw[ln] (atp11) .. controls (150,-520) .. ($(cystrna)!.35!(cys)$);
\draw[ar] ($(cystrna)!.45!(cys)$) .. controls (150,-540) .. (amp8);
\draw[ar] ($(cystrna)!.5!(cys)$) .. controls (150,-545) and (140,-565) .. (trna2);
% methionine
\draw[ra2] (cys) .. controls (166,-600) and (145,-620) .. (cysthn);
\draw[ln] (156,-607) .. controls (168,-590) and (180,-600) .. (nh36);
\draw[ar] (156,-607) .. controls (152,-615) .. (oxobut);
\draw[ra] (cysthn) .. controls (92,-640) and (88,-775) .. (hcys);
\draw[ln] (nh37) .. controls (75,-696) .. (92,-711);
\draw[ar] (92,-711) .. controls (75,-718) .. (pyr3);
\draw[ar] (hcys) -- (met);
\draw[ln] (mthg) .. controls (100,-755) and (115,-760) .. ($(hcys)!.5!(met)$);
\draw[ar] ($(hcys)!.5!(met)$) .. controls (110,-772) .. (mthg5);
\draw[ar] (met) .. controls (121,-690) and (150,-676) .. (sam);
\draw[ar] (140,-676) -- (atp12);
\draw[ln] (ppi) .. controls (140,-655) .. (142,-676);
\draw[ar] (sam) .. controls (230,-682) and (262,-690) .. (sahc);
\draw[ln] (dna) .. controls (242,-670) .. (240,-686);
\draw[ar] (240,-686) .. controls (255,-684) .. (dna5mc);
\draw[ar] (sahc) -- (srhc);
\draw[ln] (h2o5) .. controls (290,-735) and (270,-745) .. ($(sahc)!.5!(srhc)$);
\draw[ar] ($(sahc)!.5!(srhc)$) .. controls (275,-760) and (300,-764) .. (ade);
\draw[ar] (srhc) .. controls (240,-812) and (160,-810) .. (hcys);
\draw[ar] (180,-811) .. controls (180,-825) .. (dhpd);
\draw[ar] (sam) .. controls (190,-740) and (180,-789) .. (hcys);
% PPP
\draw[ar2,draw=tealc] (ru5p) .. controls (690,-62) and (672,-75) .. (x5p);
\draw[ar2,draw=tealc] (ru5p) .. controls (725,-65) and (745,-80) .. (r5p);
\draw[ar,draw=tealc] (r5p) -- (prpp2);
\draw[ln,draw=tealc] (atp7) .. controls (770,-110) and (765,-96) .. ($(r5p)!.5!(prpp2)$);
\draw[ar,draw=tealc] ($(r5p)!.6!(prpp2)$) .. controls (790,-100) and (800,-115) .. (amp7);
\draw[ar2,draw=tealc] (x5p) .. controls (700,-100) and (720,-125) .. (s7p);
\draw[ar2,draw=tealc] (r5p) .. controls (720,-100) and (700,-125) .. (g3p2);
\draw[ar2,draw=tealc] (s7p) .. controls (715,-140) and (705,-173) .. (e4p);
\draw[ar2,draw=tealc] (g3p2) .. controls (700,-140) and (720,-173) .. (f6p2);
\draw[ln] (f6p) .. controls (600,-105) and (620,-133) .. (650,-133);
\draw[ar,draw=tealc] (650,-133) .. controls (660,-120) .. (x5p);
\draw[ar,draw=tealc] (650,-133) .. controls (660,-150) .. (e4p);
\draw[ar2] (prpp2) -- (pratp);
% histidine
\draw[ar] (pratp) -- (pramp);
\draw[ar] (pramp) -- (prfa);
\draw[ar] (prfa) -- (prufa);
\draw[ar] (prufa) -- (ig3p);
\draw[ar] (ig3p) -- (iacp);
\draw[ar2] (iacp) -- (hislp);
\draw[rt,line width=1pt] (hislp) -- (hisl);
\draw[ar] (hisl) -- (hisal);
\draw[ar] (hisal) -- (his);
\draw[ar] ($(prfa)!.6!(prufa)$) .. controls (980,-115) and (950,-110) .. (aicar);
\draw[ar,densely dotted] (aicar) -- (purine);
% aspartate
\draw[ar] (oaa) -- (asp1);
\draw[ar] (oaa) .. controls (740,-396) and (785,-398) .. (oxglu4);
\draw[ln] (glu4) .. controls (759,-385) .. (752,-397);
\draw[ar] (asp1) -- (asn);
\draw[ln] (atp6) to[out=-90,in=180] ($(asp1)!.5!(asn)$);
\draw[ar] ($(asp1)!.5!(asn)$) to[out=0,in=-90] (amp6);
\draw[ln] (nh33) -- ($(asp1)!.4!(asn)$);
\draw[ar] (asp1) -- (pasp);
\draw[ar] (pasp) -- (asp4sa2);
\draw[ln] (nadph3) .. controls (743,-235) and (735,-241) .. ($(pasp)!.5!(asp4sa2)$);
\draw[ar] ($(pasp)!.5!(asp4sa2)$) .. controls (720,-241) and (716,-232) .. (nadp3);
\draw[ar2] (asp4sa2) -- (hser);
\draw[ar2] (hser) -- (ophser);
\draw[ar] (ophser) -- (thr);
\draw[ar] (asp4sa2) |- (htdpa);
\draw[ar] (htdpa) -- (dpa23);
\draw[ar2] (dpa23) -- (tdpa);
\draw[ar2] (tdpa) -- (dap26);
\draw[ar2] (dap26) -- (m26dap);
\draw[ar] (m26dap) -- (lys);
\draw[ar2] (dap26) -- (s26dap);
\draw[ar2] (sdaop) -- (s26dap);
% TCA
\draw[ar] (pyr) -- (oaa);
\draw[ln] (atp4) .. controls (620,-378) .. ($(pyr)!.6!(oaa)$);
\draw[ar] ($(pyr)!.6!(oaa)$) .. controls (640,-380) and (630,-362) .. (adp5);
\draw[ar,draw=tealc] (oaa) .. controls (672,-410) and (671,-425) .. (mal);
\draw[ln,draw=tealc] (nadh5) .. controls (690,-410) .. (675,-415);
\draw[ar,draw=tealc] (675,-418) .. controls (690,-432) .. (nad5);
\draw[ar2,draw=tealc] (mal) -- (fum);
\draw[ar,draw=tealc] ($(mal)!.5!(fum)$) .. controls (660,-470) .. (h2o4);
\draw[ar2,draw=tealc] (fum) |- (succ);
\draw[ln] (fadh2) .. controls (665,-512) .. (671,-515);
\draw[ar] (671,-515) .. controls (665,-528) .. (fad);
\draw[ln] (fum2) -- (700,-585) |- (671,-560) -- (671,-530);
\draw[ar,draw=tealc] (succ) .. controls (740,-529) and (788,-520) .. (succoa);
\draw[ln] (atp8) .. controls (725,-515) and (740,-528) .. (750,-527);
\draw[ar] (752,-527) .. controls (756,-510) .. (adp6);
\draw[ar2,draw=tealc] (oxglu4) -- (succoa);
\draw[ln,draw=tealc] (coa4) .. controls (780,-447) .. ($(oxglu4)!.4!(succoa)$);
\draw[ar,draw=tealc] ($(oxglu4)!.55!(succoa)$) .. controls (780,-465) .. (co2c);
\draw[ar,draw=tealc] ($(oxglu4)!.45!(succoa)$) .. controls (805,-445) .. (fdox3);
\draw[ln,draw=tealc] (fdrd3) .. controls (805,-458) .. ($(oxglu4)!.5!(succoa)$);
% glutamate / arginine
\draw[ar] (glu5) -- (gln);
\draw[ln] (atp9) .. controls (905,-425) .. ($(glu5)!.5!(gln)$);
\draw[ar] ($(glu5)!.55!(gln)$) .. controls (930,-425) .. (adp7);
\draw[ln] (nh34) -- ($(glu5)!.45!(gln)$);
\draw[ln] (atp10) .. controls (885,-365) .. (910,-372);
\draw[ar] (910,-372) .. controls (918,-365) .. (adp8);
\draw[ar] (910,-372) -- (955,-372) .. controls (965,-372) .. (cp);
\draw[ar] (910,-372) .. controls (890,-390) and (883,-412) .. (glu5);
\draw[ln] (gln) .. controls (962,-400) and (958,-378) .. (955,-372);
\draw[ar] (glu5) -- (aglu);
\draw[ar] (aglu) -- (aglup);
\draw[ar] (aglup) -- (agsa);
\draw[ar] (agsa) -- (aorn);
\draw[ar] (aorn) -- (orn);
\draw[ar] (orn) -- (1108,-490) |- (citr);
\draw[ar] (cp) .. controls (1010,-360) and (1116,-360) .. (1116,-460) -- (1110,-520);
\draw[ar] (1060,-367) .. controls (1085,-375) .. (pi4);
\draw[rt] (orn) .. controls (1085,-465) and (1052,-460) .. (pro);
\draw[ar] (1062,-458) -- (nh35);
\draw[ar] (citr) -- (args);
\draw[ar] (asp2) .. controls (1050,-560) and (1042,-550) .. (1040,-546);
\draw[ar] (args) -- (arg);
\draw[ar] (args) .. controls (950,-560) and (927,-560) .. (fum2);
% methanogenesis
\draw[ar] (co2) -- (fmfr);
\draw[ar] (mfr) .. controls (645,-605) and (645,-625) .. (fmfr);
\draw[ar] (fmfr) .. controls (690,-625) and (690,-605) .. (mfr);
\draw[ar2] (fmfr) -- (formate);
\draw[ar2] (co2) .. controls (580,-665) and (620,-693) .. (formate);
\draw[ln] (nad4) .. controls (650,-700) and (630,-680) .. (609,-676);
\draw[ar] (609,-676) .. controls (600,-690) and (607,-705) .. (nadh4);
\draw[da] (formatee) -- (formate);
\draw[ar2] (fmfr) -- (fthmpt);
\draw[ar2] (fthmpt) -- (methmpt);
\draw[ar2] (methmpt) -- (mtthmpt);
\draw[ar2] (mtthmpt) -- (mthmpt);
\draw[ar] (mthmpt) -- (mcom);
\draw[ar] ($(methmpt)!.5!(mtthmpt)$) .. controls (810,-650) and (799,-660) .. (cof420);
\draw[ar] ($(methmpt)!.5!(mtthmpt)$) .. controls (840,-650) and (846,-660) .. (cof420h2);
\draw[ar2] (cof420) -- (cof420h2);
\draw[ar] (h2) -- (cof420h2);
\draw[ln] (f420) -- (845,-743);
\draw[ba] (h2e) -- (h2);
\draw[ar] (pep2) -- (pslac);
\draw[ar] (pslac) -- (slac);
\draw[ar] ($(pslac)!.5!(slac)$) .. controls (895,-799) and (897,-785) .. (pi5);
\draw[ar] (slac) -- (spyr);
\draw[ln] (nadp4) .. controls (935,-810) and (940,-800) .. ($(slac)!.4!(spyr)$);
\draw[ar] ($(slac)!.45!(spyr)$) .. controls (950,-805) and (957,-815) .. (nadph4);
\draw[ar] (spyr) -- (sald);
\draw[ar] (sald) -- (com);
\draw[ar2] (com) -- (mcom);
\draw[ar2] (thmpt2) -- (mcom);
\draw[ar] (mcom) -- (methane);
\draw[ba] (methane) -- (methanee);
\end{pgfonlayer}
\end{tikzpicture}
\end{document}
